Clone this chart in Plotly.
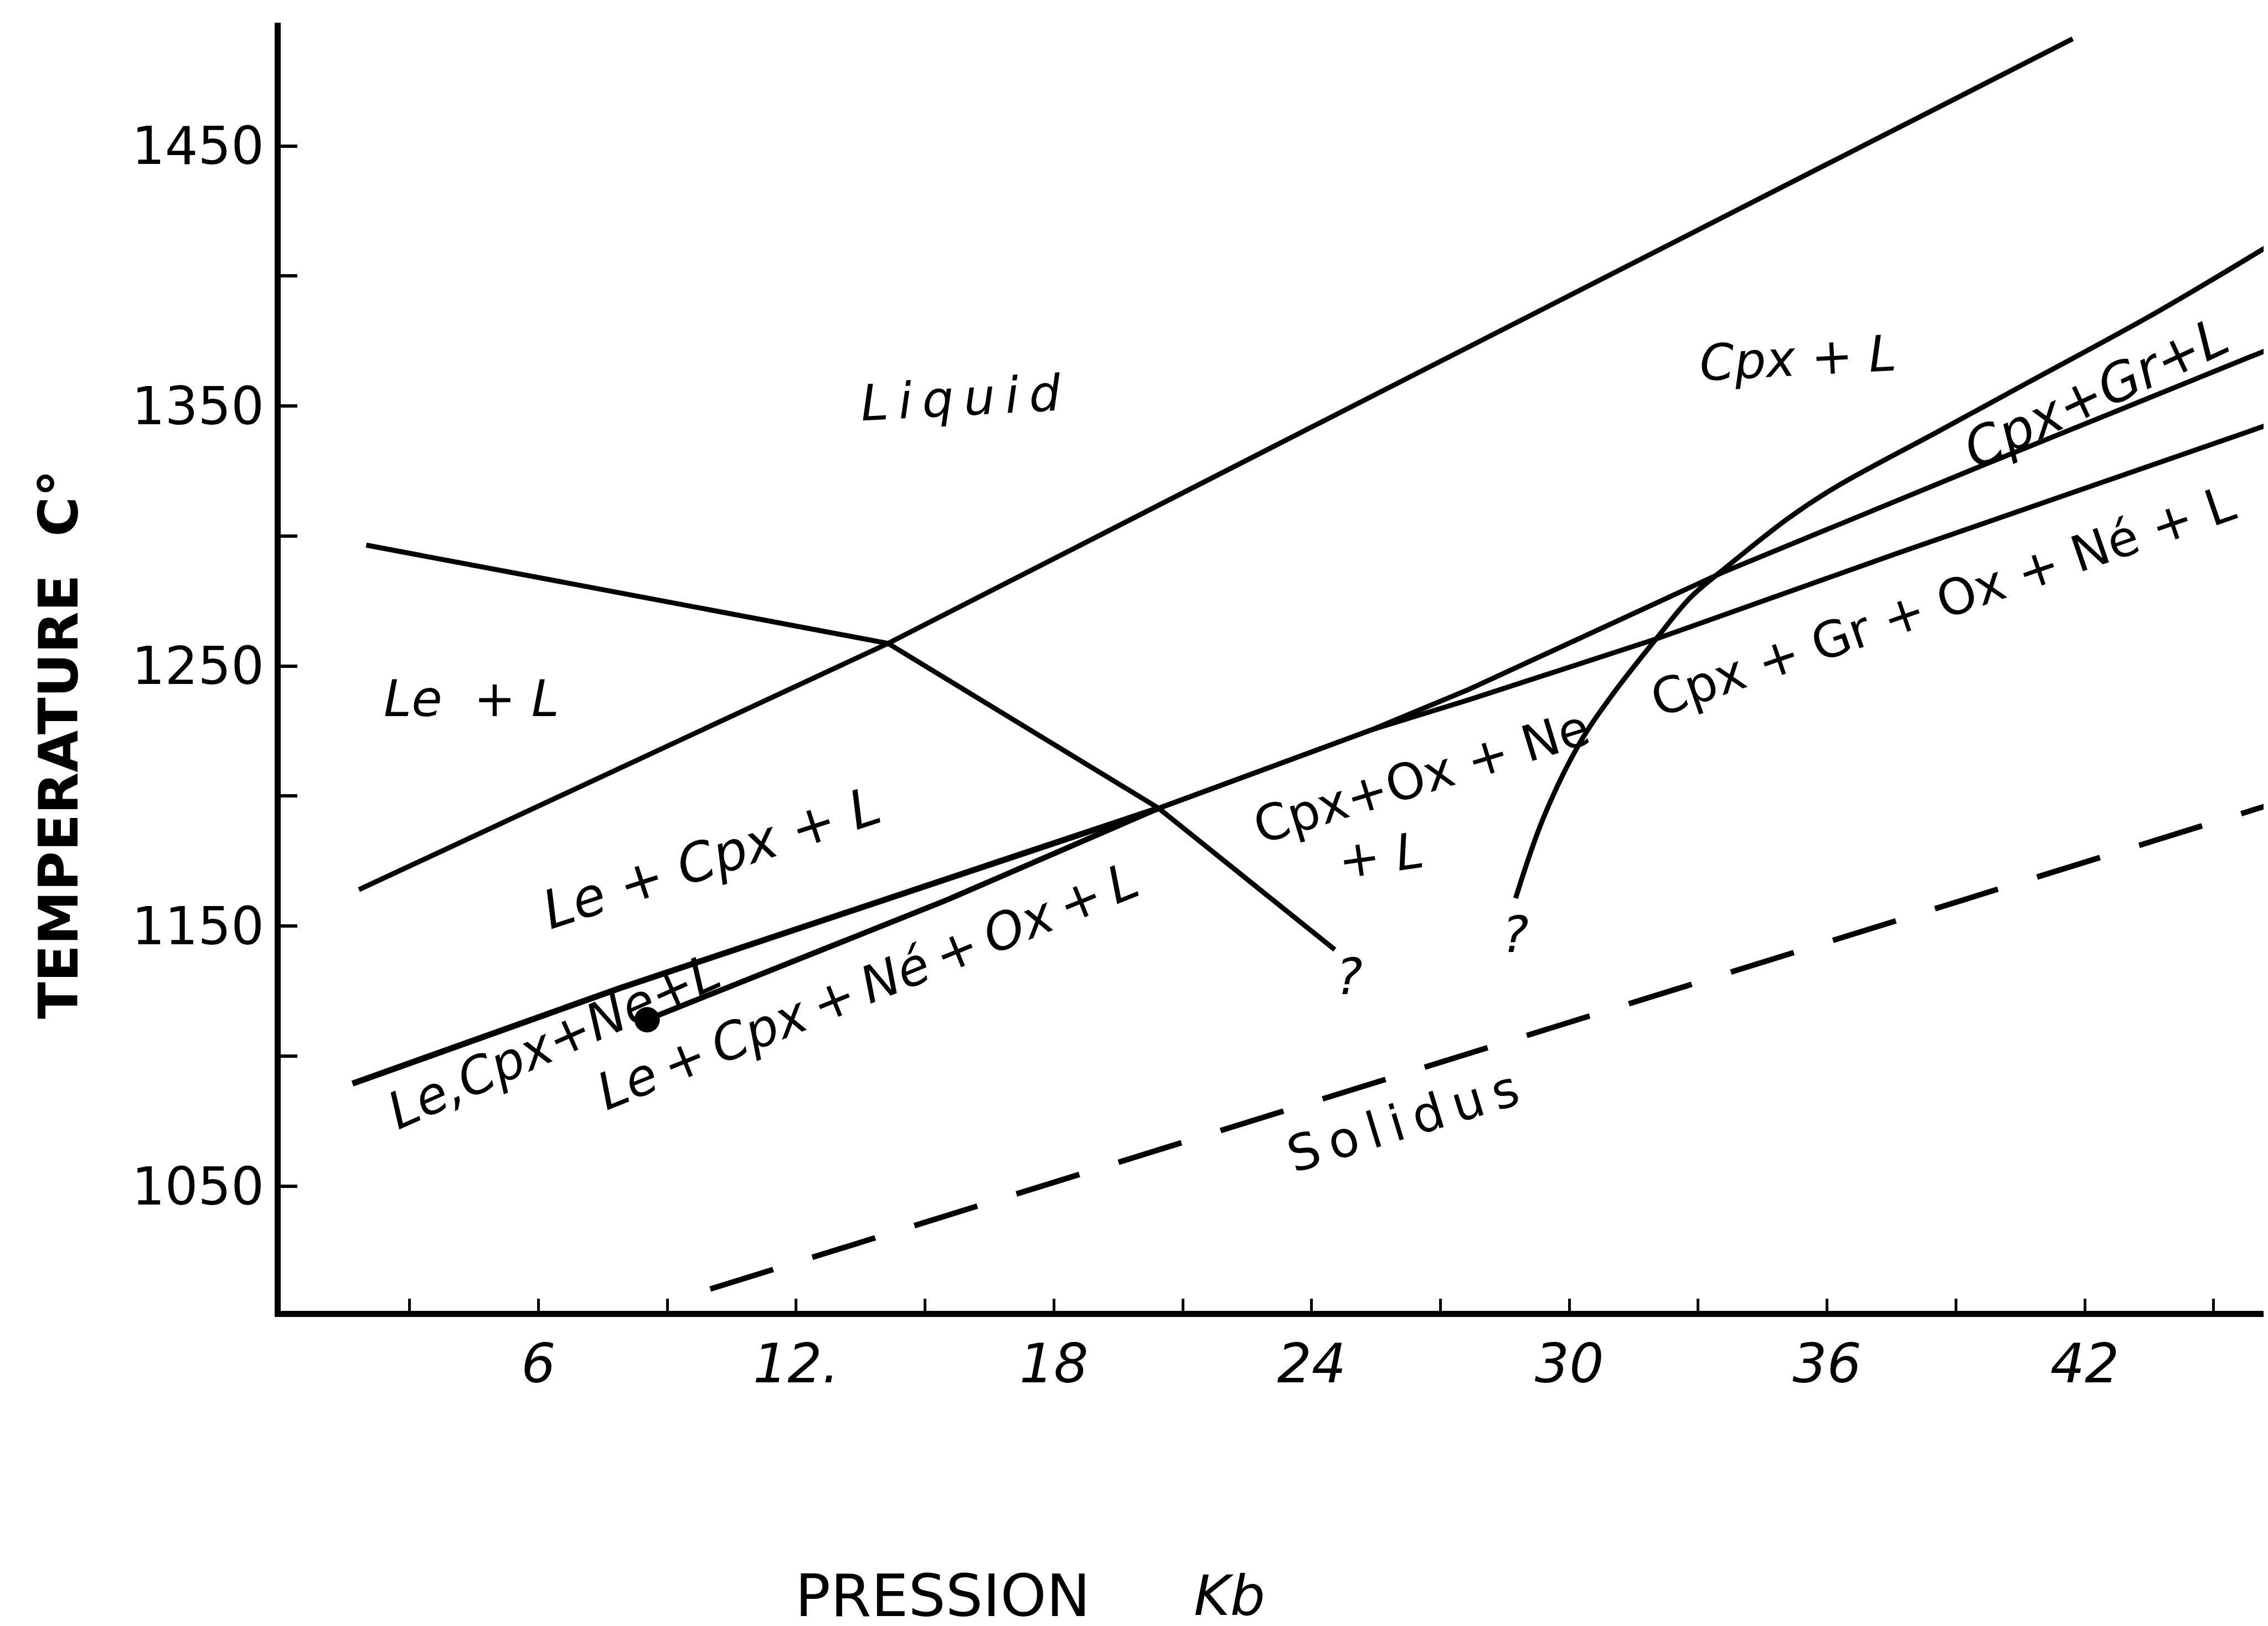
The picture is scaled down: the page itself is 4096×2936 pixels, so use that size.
import plotly.graph_objects as go

# ---------------- axes ----------------
x_range = [0, 46.37]
y_range = [1002.0, 1497.4]
x_tickvals = [3, 6, 9, 12, 15, 18, 21, 24, 27, 30, 33, 36, 39, 42, 45]
x_ticktext = ["", "6", "", "12.", "", "18", "", "24", "", "30", "", "36", "", "42", ""]
y_tickvals = [1050, 1100, 1150, 1200, 1250, 1300, 1350, 1400, 1450]
y_ticktext = ["1050", "", "1150", "", "1250", "", "1350", "", "1450"]

# ---------------- phase boundaries (P in kb, T in deg C) ----------------
liquidus_p = [1.82, 14.14, 23.99, 41.72]
liquidus_t = [1164.0, 1258.7, 1341.8, 1491.2]

le_out_p = [1.99, 14.14, 20.44, 24.54]
le_out_t = [1296.5, 1258.7, 1195.3, 1140.9]

cpx_in_p = [1.67, 7.91, 20.44]
cpx_in_t = [1089.4, 1126.2, 1195.3]

ne_in_p = [8.53, 15.52, 20.44]
ne_in_t = [1114.0, 1160.1, 1195.3]

upper_p = [20.44, 25.42, 27.66, 33.57, 39.63, 46.36]
upper_t = [1195.3, 1225.6, 1241.0, 1286.0, 1327.2, 1372.3]

lower_p = [20.44, 25.42, 27.66, 32.02, 37.61, 42.39, 46.36]
lower_t = [1195.3, 1225.6, 1237.0, 1260.4, 1293.2, 1320.5, 1343.3]

garnet_p = [28.75, 29.39, 30.24, 31.04, 32.02, 32.83, 33.67, 35.08, 36.2, 38.62, 40.71, 43.67, 46.36]
garnet_t = [1160.7, 1191.3, 1220.3, 1239.8, 1260.4, 1276.5, 1288.2, 1306.6, 1318.8, 1340.5, 1359.3, 1386.0, 1412.4]

solidus_p = [10.0, 46.36]
solidus_t = [1010.4, 1196.9]

point_p = [8.53]
point_t = [1114.0]

# ---------------- field labels ----------------
T = "\u2009"
label_text = ["L" + T + "i" + T + "q" + T + "u" + T + "i" + T + "d", "Cpx + L", "Cpx+Gr+L",
              "Cpx + Gr + Ox + Né + L", "Le\u00a0\u00a0+ L", "Le + Cpx + L",
              "Cpx+Ox + Ne", "+ L",
              "Le" + T + "+" + T + "Cpx" + T + "+" + T + "Né" + T + "+" + T + "Ox" + T + "+" + T + "L",
              "Le,Cpx+Ne+L",
              "S" + T + "o" + T + "l" + T + "i" + T + "d" + T + "u" + T + "s", "?", "?"]
label_p = [15.83, 35.32, 42.26, 38.69, 4.44, 10.03, 26.55, 25.62, 13.67, 6.36, 26.13, 24.88, 28.75]
label_t = [1353.2, 1368.5, 1355.0, 1274.9, 1237.5, 1176.3, 1207.4, 1177.1, 1127.0, 1105.6, 1075.0, 1130.6, 1146.7]
label_angle = [-3, -3, -25, -19, 0, -18, -17, -8, -22, -24, -17, 0, 0]
label_size = [90, 90, 96, 90, 90, 96, 90, 90, 92, 92, 90, 90, 90]
label_italic = [True, True, True, False, True, True, False, True, True, True, False, True, True]

fig = go.Figure()

LW = 9
def add_line(px, pt, width=LW, dash="solid", shape="linear"):
    fig.add_trace(go.Scatter(x=px, y=pt, mode="lines",
                             line=dict(color="black", width=width, dash=dash, shape=shape),
                             hoverinfo="skip", showlegend=False))

add_line(liquidus_p, liquidus_t)
add_line(le_out_p, le_out_t)
add_line(cpx_in_p, cpx_in_t, width=11)
add_line(ne_in_p, ne_in_t, width=10)
add_line(upper_p, upper_t)
add_line(lower_p, lower_t)
add_line(garnet_p, garnet_t, shape="spline")
add_line(solidus_p, solidus_t, width=10, dash="119px,74px")

fig.add_trace(go.Scatter(x=point_p, y=point_t, mode="markers",
                         marker=dict(color="black", size=46), hoverinfo="skip", showlegend=False))

for txt, p, t, ang, sz, it in zip(label_text, label_p, label_t, label_angle, label_size, label_italic):
    fig.add_annotation(x=p, y=t, xref="x", yref="y", text=txt, showarrow=False,
                       textangle=ang, xanchor="center", yanchor="middle",
                       font=dict(family="DejaVu Sans", size=sz, color="black",
                                 style="italic" if it else "normal"))

# axis titles
fig.add_annotation(xref="paper", yref="paper", x=-0.1115, y=0.4398,
                   text="TEMPERATURE\u00a0\u00a0C°", textangle=-90, showarrow=False,
                   xanchor="center", yanchor="middle",
                   font=dict(family="DejaVu Sans", size=98, color="black", weight="bold"))
fig.add_annotation(xref="paper", yref="paper", x=0.3323, y=-0.221,
                   text="PRESSION", showarrow=False, xanchor="center", yanchor="middle",
                   font=dict(family="DejaVu Sans", size=106, color="black"))
fig.add_annotation(xref="paper", yref="paper", x=0.4765, y=-0.221,
                   text="Kb", showarrow=False, xanchor="center", yanchor="middle",
                   font=dict(family="DejaVu Sans", size=100, color="black", style="italic"))

fig.update_layout(
    width=4096, height=2936,
    margin=dict(l=499, r=0, t=33, b=577),
    paper_bgcolor="white", plot_bgcolor="white",
    showlegend=False,
)
fig.update_xaxes(range=x_range, showgrid=False, zeroline=False, showline=True,
                 linecolor="black", linewidth=11, ticks="inside", ticklen=22, tickwidth=5,
                 tickcolor="black", tickvals=x_tickvals, ticktext=x_ticktext,
                 ticklabelstandoff=0,
                 tickfont=dict(family="DejaVu Sans", size=98, color="black", style="italic"))
fig.update_yaxes(range=y_range, showgrid=False, zeroline=False, showline=True,
                 linecolor="black", linewidth=11, ticks="inside", ticklen=30, tickwidth=6,
                 tickcolor="black", tickvals=y_tickvals, ticktext=y_ticktext,
                 ticklabelstandoff=0,
                 tickfont=dict(family="DejaVu Sans", size=94, color="black"))

fig.write_html("out.html")
